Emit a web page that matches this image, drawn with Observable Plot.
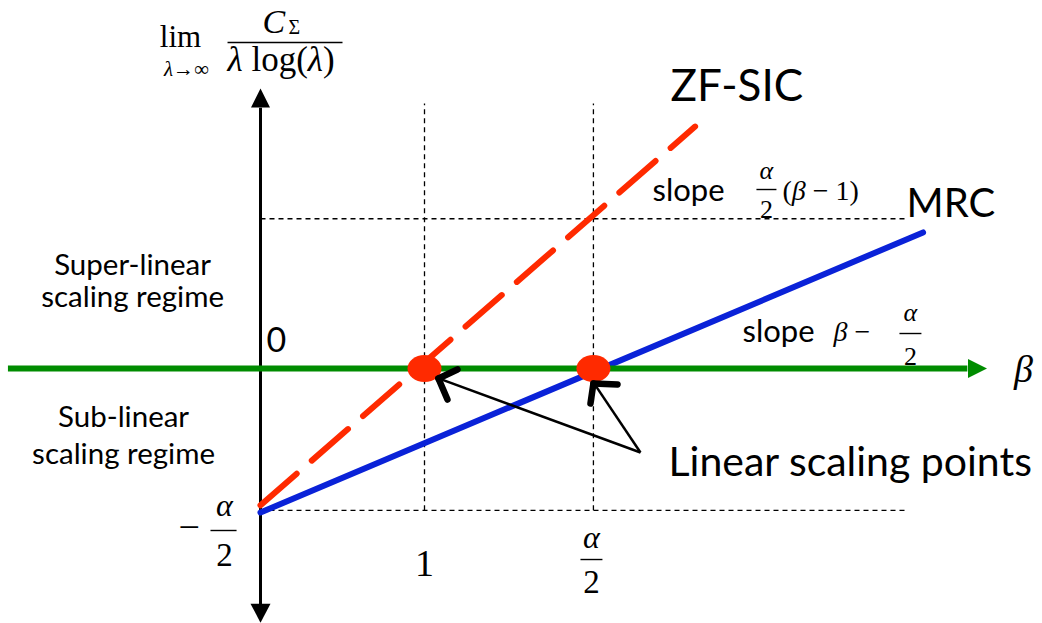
<!DOCTYPE html>
<html>
<head>
<meta charset="utf-8">
<script src="https://cdn.jsdelivr.net/npm/d3@7"></script>
<script src="https://cdn.jsdelivr.net/npm/@observablehq/plot@0.6"></script>
<style>
  html, body { margin: 0; padding: 0; background: #fff; }
  #chart { width: 1042px; height: 623px; }
</style>
</head>
<body>
<div id="chart"></div>
<script>
// ---------- data (diagram units: beta horizontally, scaled capacity vertically) ----------
const zfSic = [{beta: 0.0, c: -1.90}, {beta: 2.65, c: 3.36}];
const mrc = [{beta: 0.0, c: -2.0}, {beta: 4.04, c: 1.89}];
const scalingPoints = [{beta: 1.0, c: 0}, {beta: 2.03, c: 0}];
const guideV = [{beta: 1.0, c1: -1.97, c2: 3.68}, {beta: 2.03, c1: -1.97, c2: 3.68}];
const guideH = [{c: 2.08, b1: 0, b2: 3.93}, {c: -1.97, b1: 0, b2: 3.93}];
const yAxisLine = [{beta: 0, c1: -3.28, c2: 3.62}];
const yAxisTips = [{beta: 0, c: 3.89, dir: "up"}, {beta: 0, c: -3.53, dir: "down"}];
const betaAxisLine = [{c: 0, b1: -1.54, b2: 4.31}];
const betaAxisTip = [{beta: 4.43, c: 0}];
const pointerShafts = [
  {b1: 2.317, c1: -1.167, b2: 1.09, c2: -0.14},
  {b1: 2.317, c1: -1.167, b2: 2.035, c2: -0.21}
];
const pointerHeads = [
  {b1: 1.085, c1: -0.139, b2: 1.201, c2: -0.014},
  {b1: 1.085, c1: -0.139, b2: 1.140, c2: -0.431},
  {b1: 2.030, c1: -0.208, b2: 2.177, c2: -0.222},
  {b1: 2.030, c1: -0.208, b2: 2.012, c2: -0.486}
];

// ---------- labels ----------
const seriesLabelZF = [{text: "ZF-SIC", beta: 2.50, c: 3.917}];
const seriesLabelMRC = [{text: "MRC", beta: 3.939, c: 2.278}];
const pointsLabel = [{text: "Linear scaling points", beta: 2.488, c: -1.306}];
const regimeLabels = [
  {text: "Super-linear", beta: -0.780, c: 1.425},
  {text: "scaling regime", beta: -0.780, c: 0.981},
  {text: "Sub-linear", beta: -0.835, c: -0.686},
  {text: "scaling regime", beta: -0.835, c: -1.20}
];
const slopeWords = [{text: "slope", beta: 2.390, c: 2.46}, {text: "slope", beta: 2.939, c: 0.504}];
const originLabel = [{text: "0", beta: 0.037, c: 0.375}];

// math pieces (*...* = italic)
const titleLim = [{text: "lim", beta: -0.488, c: 4.61}];
const titleSub = [{text: "*λ*→∞", beta: -0.451, c: 4.16}];
const titleNum = [{text: "*C*", beta: 0.012, c: 4.81}];
const titleNumSub = [{text: "Σ", beta: 0.171, c: 4.73}];
const titleDen = [{text: "*λ* log(*λ*)", beta: -0.201, c: 4.290}];
const fracBars = [
  {b1: -0.201, b2: 0.50, c: 4.528},
  {b1: 3.024, b2: 3.146, c: 2.486},
  {b1: 3.896, b2: 4.030, c: 0.486},
  {b1: 1.951, b2: 2.085, c: -2.653},
  {b1: -0.305, b2: -0.146, c: -2.25}
];
const smallAlpha = [{text: "*α*", beta: 3.085, c: 2.75}, {text: "*α*", beta: 3.963, c: 0.778}];
const smallTwo = [{text: "2", beta: 3.085, c: 2.208}, {text: "2", beta: 3.963, c: 0.167}];
const tickAlpha = [{text: "*α*", beta: 2.018, c: -2.347}, {text: "*α*", beta: -0.22, c: -1.903}];
const tickTwo = [{text: "2", beta: 2.018, c: -2.972}, {text: "2", beta: -0.22, c: -2.597}];
const slopeZFExpr = [{text: "(*β* − 1)", beta: 3.183, c: 2.458}];
const slopeMRCExpr = [{text: "*β* − ", beta: 3.494, c: 0.5}];
const minusLabel = [{text: "−", beta: -0.50, c: -2.208}];
const oneTick = [{text: "1", beta: 1.0, c: -2.708}];
const betaLabel = [{text: "*β*", beta: 4.652, c: -0.02}];

// ---------- custom symbols ----------
const triUp = {draw(ctx) { ctx.moveTo(0, 0); ctx.lineTo(-9.5, 19); ctx.lineTo(9.5, 19); ctx.closePath(); }};
const triDown = {draw(ctx) { ctx.moveTo(0, 0); ctx.lineTo(-10, -19); ctx.lineTo(10, -19); ctx.closePath(); }};
const triRight = {draw(ctx) { ctx.moveTo(0, 0); ctx.lineTo(-19, -9.5); ctx.lineTo(-19, 9.5); ctx.closePath(); }};
const ellipse = {draw(ctx) {
  const rx = 17, ry = 13.5, k = 0.5523;
  ctx.moveTo(rx, 0);
  ctx.bezierCurveTo(rx, ry * k, rx * k, ry, 0, ry);
  ctx.bezierCurveTo(-rx * k, ry, -rx, ry * k, -rx, 0);
  ctx.bezierCurveTo(-rx, -ry * k, -rx * k, -ry, 0, -ry);
  ctx.bezierCurveTo(rx * k, -ry, rx, -ry * k, rx, 0);
  ctx.closePath();
}};

const SANS = "Lato, 'Open Sans', sans-serif";
const SERIF = "'Liberation Serif', 'DejaVu Serif', serif";
const RED = "#ff2a00", BLUE = "#0a22d8", GREEN = "#008c00";

function txt(data, size, opts = {}) {
  return Plot.text(data, {x: "beta", y: "c", text: "text", fontSize: size, fill: "black",
    lineAnchor: "middle", ...opts});
}

const chart = Plot.plot({
  width: 1042,
  height: 623,
  margin: 0,
  x: {domain: [-260 / 164, 782 / 164], axis: null},
  y: {domain: [-255 / 72, 368 / 72], axis: null},
  style: {background: "white", overflow: "visible"},
  marks: [
    // dashed guides
    Plot.link(guideV, {x1: "beta", x2: "beta", y1: "c1", y2: "c2", stroke: "black", strokeWidth: 1.3, strokeDasharray: "5,4"}),
    Plot.link(guideH, {x1: "b1", x2: "b2", y1: "c", y2: "c", stroke: "black", strokeWidth: 1.3, strokeDasharray: "5,4"}),
    // axes
    Plot.link(yAxisLine, {x1: "beta", x2: "beta", y1: "c1", y2: "c2", stroke: "black", strokeWidth: 3}),
    Plot.dot(yAxisTips.filter(d => d.dir === "up"), {x: "beta", y: "c", symbol: triUp, fill: "black", stroke: "none"}),
    Plot.dot(yAxisTips.filter(d => d.dir === "down"), {x: "beta", y: "c", symbol: triDown, fill: "black", stroke: "none"}),
    // series lines
    Plot.line(mrc, {x: "beta", y: "c", stroke: BLUE, strokeWidth: 6}),
    Plot.line(zfSic, {x: "beta", y: "c", stroke: RED, strokeWidth: 6, strokeDasharray: "48,20"}),
    // beta axis
    Plot.link(betaAxisLine, {x1: "b1", x2: "b2", y1: "c", y2: "c", stroke: GREEN, strokeWidth: 6}),
    Plot.dot(betaAxisTip, {x: "beta", y: "c", symbol: triRight, fill: GREEN, stroke: "none"}),
    // scaling points
    Plot.dot(scalingPoints, {x: "beta", y: "c", symbol: ellipse, fill: RED, stroke: "none"}),
    // pointers
    Plot.link(pointerShafts, {x1: "b1", y1: "c1", x2: "b2", y2: "c2", stroke: "black", strokeWidth: 2.5}),
    Plot.link(pointerHeads, {x1: "b1", y1: "c1", x2: "b2", y2: "c2", stroke: "black", strokeWidth: 6.5, strokeLinecap: "round"}),
    // fraction bars
    Plot.link(fracBars, {x1: "b1", x2: "b2", y1: "c", y2: "c", stroke: "black", strokeWidth: 1.4}),
    // sans labels
    txt(seriesLabelZF, 44, {textAnchor: "start", fontFamily: SANS}),
    txt(seriesLabelMRC, 40, {textAnchor: "start", fontFamily: SANS}),
    txt(pointsLabel, 41, {textAnchor: "start", fontFamily: SANS}),
    txt(regimeLabels, 29.5, {textAnchor: "middle", fontFamily: SANS}),
    txt(slopeWords, 31, {textAnchor: "start", fontFamily: SANS}),
    txt(originLabel, 34, {textAnchor: "start", fontFamily: SANS}),
    // math
    txt(titleLim, 31, {textAnchor: "middle", fontFamily: SERIF}),
    txt(titleSub, 21, {textAnchor: "middle", fontFamily: SERIF}),
    txt(titleNum, 34, {textAnchor: "start", fontFamily: SERIF}),
    txt(titleNumSub, 20, {textAnchor: "start", fontFamily: SERIF}),
    txt(titleDen, 35, {textAnchor: "start", fontFamily: SERIF}),
    txt(smallAlpha, 26, {textAnchor: "middle", fontFamily: SERIF}),
    txt(smallTwo, 26, {textAnchor: "middle", fontFamily: SERIF}),
    txt(tickAlpha, 32, {textAnchor: "middle", fontFamily: SERIF}),
    txt(tickTwo, 33, {textAnchor: "middle", fontFamily: SERIF}),
    txt(slopeZFExpr, 28, {textAnchor: "start", fontFamily: SERIF}),
    txt(slopeMRCExpr, 28, {textAnchor: "start", fontFamily: SERIF}),
    txt(minusLabel, 38, {textAnchor: "start", fontFamily: SERIF}),
    txt(oneTick, 38, {textAnchor: "middle", fontFamily: SERIF}),
    txt(betaLabel, 38, {textAnchor: "middle", fontFamily: SERIF})
  ]
});

// turn *...* segments into italic tspans
const NS = "http://www.w3.org/2000/svg";
chart.querySelectorAll("text").forEach(t => {
  const s = t.textContent;
  if (!s.includes("*")) return;
  t.textContent = "";
  s.split("*").forEach((part, i) => {
    if (!part) return;
    const ts = document.createElementNS(NS, "tspan");
    ts.textContent = part;
    if (i % 2 === 1) ts.setAttribute("font-style", "italic");
    t.appendChild(ts);
  });
  t.setAttribute("style", (t.getAttribute("style") || "") + ";white-space:pre");
});

document.getElementById("chart").appendChild(chart);
</script>
</body>
</html>
